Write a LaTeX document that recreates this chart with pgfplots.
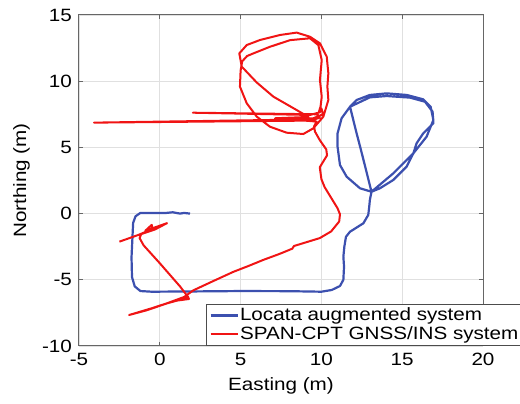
\documentclass[border=0pt]{standalone}
\usepackage{fontspec}
\setmainfont[FakeStretch=1.16]{Liberation Sans}
\usepackage{pgfplots}
\pgfplotsset{compat=1.18}
\definecolor{lblue}{RGB}{60,80,175}
\definecolor{lred}{RGB}{240,20,20}
\begin{document}
\begin{tikzpicture}
\begin{axis}[
 scale only axis, width=202pt, height=165.5pt,
 xmin=-5, xmax=20, ymin=-10, ymax=15,
 xtick={-5,0,5,10,15,20}, ytick={-10,-5,0,5,10,15},
 grid=major, grid style={color=black!12, line width=0.4pt},
 axis line style={color=black!60, line width=0.5pt},
 tick style={color=black!60, line width=0.5pt},
 major tick length=2pt,
 font=\fontsize{8.9}{9}\selectfont,
 /pgf/number format/assume math mode=true,
 xlabel={Easting (m)}, ylabel={Northing (m)},
 xlabel style={at={(axis description cs:0.5,-0.133)}, anchor=base},
 ylabel style={at={(axis description cs:-0.131,0.5)}, anchor=base},
 legend style={at={(axis cs:2.86,-10)}, anchor=south west, draw=black!70, fill=white,
   inner xsep=1.5pt, inner ysep=1pt, row sep=0pt,
   font=\fontsize{8.9}{9}\selectfont,
   nodes={inner sep=0.7pt, anchor=west}},
 legend cell align=left,
 legend image code/.code={\draw[#1] (0pt,0pt) -- (13.5pt,0pt);},
]
\addplot[color=lblue, line width=1.1pt, line join=round] coordinates {
(1.87,0.0)(1.5,0.05)(1.25,0.0)(0.8,0.1)(0.4,0.05)(0.0,0.05)(-0.6,0.05)(-1.2,0.05)(-1.5,-0.2)(-1.65,-0.7)(-1.7,-2.0)(-1.75,-3.3)(-1.72,-4.8)(-1.55,-5.5)(-1.2,-5.85)(-0.5,-5.9)(2,-5.88)(5,-5.85)(8,-5.86)(10,-5.9)(10.64,-5.77)(11.15,-5.47)(11.36,-5.0)(11.4,-4.0)(11.36,-3.25)(11.42,-2.5)(11.52,-1.75)(11.77,-1.37)(12.6,-0.73)(12.9,-0.1)(12.96,0.52)(13.0,1.03)(13.1,1.65)
(12.45,4.8)(12.18,6.06)(11.77,8.07)(12.18,8.58)(13.0,8.96)(14.04,9.08)(15.28,8.96)(16.3,8.63)(16.76,8.07)(16.93,7.07)(16.51,5.81)(15.69,4.55)(14.45,3.04)(13.1,1.65)
(12.39,1.91)(11.56,2.79)(11.15,3.67)(11.0,5.05)(11.0,6.06)(11.25,7.2)(11.77,8.07)(13.0,8.78)(14.04,8.88)(15.48,8.76)(16.41,8.45)(16.88,7.7)(16.93,6.82)(16.3,6.06)(15.89,5.31)(15.69,4.55)(15.27,3.54)(14.45,2.54)(13.62,1.91)(13.1,1.65)
};
\addlegendentry{Locata augmented system}
\addplot[color=lred, line width=1pt, line join=round] coordinates {
(-2.5,-2.12)(-1.3,-1.6)(-0.45,-1.15)(-0.5,-0.85)(-0.9,-1.3)(0.45,-0.72)(-0.3,-1.2)(-1.15,-1.55)(-1.25,-1.85)(-1.0,-2.4)(0.0,-3.75)(1.25,-5.5)(1.75,-6.3)(1.8,-6.45)(0.9,-6.6)(1.7,-6.35)(0.4,-6.8)(-0.8,-7.3)(-1.9,-7.66)(-0.5,-7.15)(0.5,-6.75)(1.5,-6.3)(2.07,-5.8)(3.3,-5.1)(4.55,-4.4)(5.5,-3.95)(6.4,-3.5)(7.4,-3.05)(8.2,-2.65)(8.3,-2.45)(8.7,-2.3)(9.9,-1.85)(10.6,-1.35)(11.1,-0.6)(11.15,-0.05)(11.0,0.4)(10.6,1.2)(10.2,2.0)(10.0,2.6)(9.9,3.5)(10.35,4.4)(10.3,4.85)(9.9,5.55)(9.6,6.2)(9.55,6.6)
(9.7,6.95)(9.0,7.02)(-4.07,6.87)(9.6,7.12)(9.9,7.25)(9.75,7.5)(2.05,7.62)(9.3,7.45)(9.9,7.65)(10.0,7.95)(10.1,7.5)(9.5,7.2)(7.13,7.2)(9.2,7.3)
(8.47,7.82)(7.03,8.83)(6.0,9.9)(5.07,11.1)(4.92,12.1)(5.38,12.73)(6.2,13.11)(7.44,13.49)(8.47,13.67)(9.29,13.36)(9.91,12.86)(10.33,11.85)(10.43,10.6)(10.37,9.59)(10.43,8.58)(10.12,7.32)(9.5,6.44)(8.88,6.01)(7.85,6.11)(6.82,6.56)(6.0,7.32)(5.38,8.33)(4.96,9.59)(5.0,10.8)(5.1,11.5)(5.4,11.9)(5.79,12.1)(6.82,12.6)(8.06,13.1)(9.29,13.24)(9.81,12.73)(10.02,11.6)(9.91,10.09)(10.02,8.83)(9.95,8.1)(9.85,7.7)
};
\addlegendentry{SPAN-CPT GNSS/INS system}
\coordinate (bl) at (rel axis cs:0,0);
\coordinate (tr) at (rel axis cs:1,1);
\end{axis}
\pgfresetboundingbox
\path[use as bounding box] ([xshift=-39.5pt,yshift=-29pt]bl) rectangle ([xshift=18.5pt,yshift=7.5pt]tr);
\end{tikzpicture}
\end{document}
